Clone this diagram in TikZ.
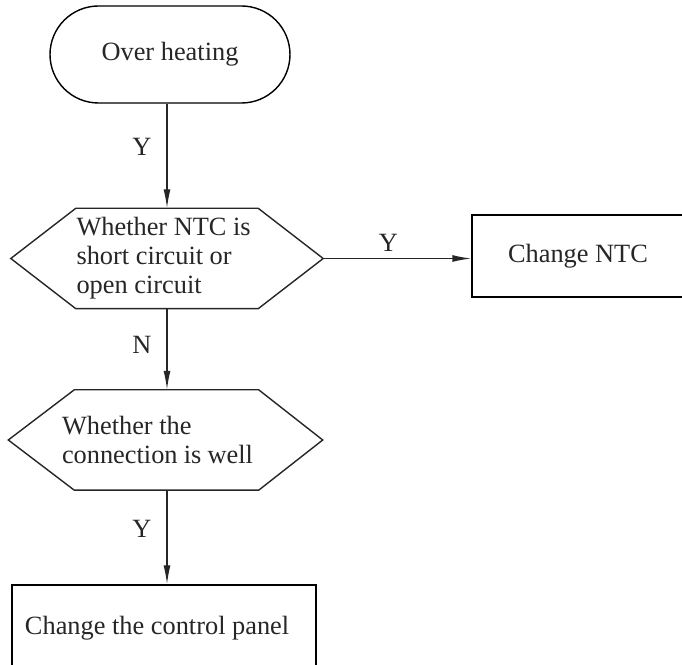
\documentclass[tikz,border=0pt]{standalone}
\usepackage{fontspec}
\setmainfont{Liberation Serif}
\usetikzlibrary{arrows.meta}
\begin{document}
\begin{tikzpicture}[line width=0.8pt, every node/.style={font=\fontsize{15}{16.5}\selectfont, text=black!85},
  term/.style={draw,rounded corners=0.97cm,minimum width=4.8cm,minimum height=1.94cm},
  decision/.style={align=flush left,inner sep=0pt,minimum height=1.98cm},
  box/.style={draw,align=flush left,minimum height=1.64cm},
  flow/.style={-{Latex[length=3.8mm,width=1.4mm]},black!85},
  yn/.style={inner sep=0pt}]
\clip (0,0) rectangle (13.64,13.30);
\node[term] (heat) at (3.40,12.21) {Over heating};
\node[decision,text width=3.62cm] (ntcq) at (3.34,8.13) {Whether NTC is\\short circuit or\\open circuit};
\node[decision,text width=3.82cm] (conn) at (3.15,4.50) {Whether the\\connection is well};
\node[box,minimum width=4.24cm] (ntc) at (11.56,8.18) {Change NTC};
\node[box,text width=5.56cm,inner xsep=0.26cm,minimum height=1.72cm] (panel) at (3.28,0.74) {Change the control panel};
\coordinate (ntcqL) at ([xshift=-1.30cm]ntcq.west);
\coordinate (ntcqR) at ([xshift=1.30cm]ntcq.east);
\coordinate (connL) at ([xshift=-1.06cm]conn.west);
\coordinate (connR) at ([xshift=1.38cm]conn.east);
\draw[black!85] (ntcq.north west) -- (ntcq.north east) -- (ntcqR) -- (ntcq.south east) -- (ntcq.south west) -- (ntcqL) -- cycle;
\draw[black!85] ([xshift=0.26cm]conn.north west) -- ([xshift=0.10cm]conn.north east) -- (connR)
  -- ([xshift=0.10cm]conn.south east) -- ([xshift=0.26cm]conn.south west) -- (connL) -- cycle;
\draw[flow] (heat.south -| ntcq.north) -- (ntcq.north) node[yn,pos=0.41,left=0.3cm] {Y};
\draw[flow] (ntcqR) -- (ntcqR -| ntc.west) node[pos=0.44,above] {Y};
\draw[flow] (ntcq.south) -- (ntcq.south |- conn.north) node[yn,pos=0.44,left=0.3cm] {N};
\draw[flow] (ntcq.south |- conn.south) -- (ntcq.south |- panel.north) node[yn,pos=0.41,left=0.3cm] {Y};
\end{tikzpicture}
\end{document}
